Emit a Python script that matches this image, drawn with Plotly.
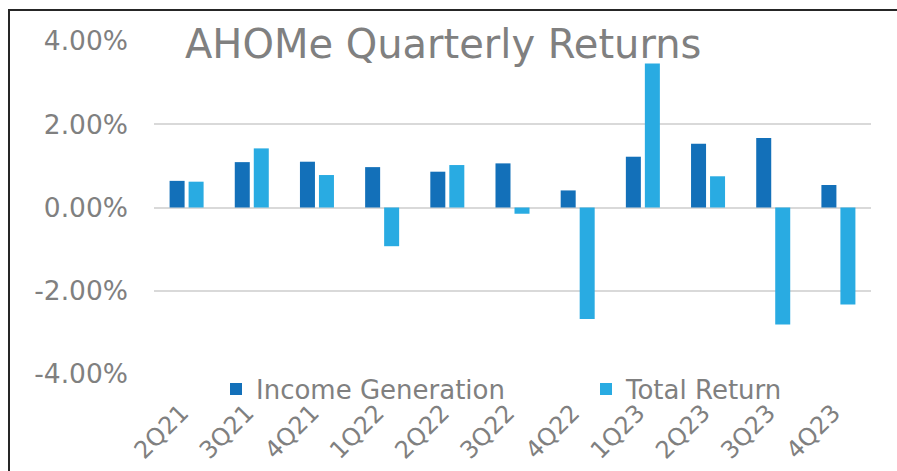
import plotly.graph_objects as go

quarters = ["2Q21", "3Q21", "4Q21", "1Q22", "2Q22", "3Q22", "4Q22", "1Q23", "2Q23", "3Q23", "4Q23"]
income_generation = [0.0064, 0.0109, 0.0110, 0.0097, 0.0086, 0.0106, 0.0041, 0.0122, 0.0153, 0.0167, 0.0054]
total_return = [0.0062, 0.0142, 0.0078, -0.0093, 0.0102, -0.0015, -0.0268, 0.0346, 0.0075, -0.0281, -0.0233]
y_tick_values = [-0.04, -0.02, 0.0, 0.02, 0.04]
y_tick_labels = ["-4.00%", "-2.00%", "0.00%", "2.00%", "4.00%"]

W, H = 897, 471
ML, MR, MT, MB = 154, 26, 41, 97
PW, PH = W - ML - MR, H - MT - MB

def px_x(px):
    return (px - ML) / PW

def px_y(py):
    return (H - MB - py) / PH

GRAY = "#808080"
FONT = "DejaVu Sans"

fig = go.Figure()
fig.add_trace(go.Bar(name="Income Generation", x=quarters, y=income_generation,
                     marker=dict(color="#1370B9", line=dict(width=0)), legend="legend"))
fig.add_trace(go.Bar(name="Total Return", x=quarters, y=total_return,
                     marker=dict(color="#29ABE2", line=dict(width=0)), legend="legend2"))

leg_common = dict(orientation="h", xanchor="left", yanchor="middle",
                  xref="container", yref="container",
                  font=dict(family=FONT, size=26, color=GRAY), bgcolor="rgba(0,0,0,0)",
                  itemwidth=30)

fig.update_layout(
    width=W, height=H,
    margin=dict(l=ML, r=MR, t=MT, b=MB, pad=0, autoexpand=False),
    paper_bgcolor="white", plot_bgcolor="white",
    barmode="group", bargap=0.417, bargroupgap=0.21,
    font=dict(family=FONT, color=GRAY),
    title=dict(text="AHOMe Quarterly Returns", font=dict(family=FONT, size=40, color=GRAY),
               x=185 / W, xanchor="left", xref="container",
               y=1 - 44 / H, yanchor="middle", yref="container"),
    showlegend=True,
    legend=dict(x=216 / W, y=1 - 389 / H, **leg_common),
    legend2=dict(x=586 / W, y=1 - 389 / H, **leg_common),
    xaxis=dict(type="category", tickangle=-45, tickfont=dict(family=FONT, size=24, color=GRAY),
               showgrid=False, showline=False, ticks="", ticklabelstandoff=19, ticklabelshift=-5,
               zeroline=False, automargin=False),
    yaxis=dict(range=[-0.04, 0.04], tickvals=y_tick_values, ticktext=y_tick_labels,
               tickfont=dict(family=FONT, size=26.5, color=GRAY),
               showgrid=True, gridcolor="#D9D9D9", gridwidth=1.5,
               zeroline=True, zerolinecolor="#D9D9D9", zerolinewidth=1.5,
               showline=False, ticks="", ticklabelstandoff=25, automargin=False),
    shapes=[dict(type="rect", xref="paper", yref="paper",
                 x0=px_x(9), x1=px_x(905), y0=px_y(490), y1=px_y(10),
                 line=dict(color="#262626", width=2), fillcolor="rgba(0,0,0,0)", layer="above")],
)

fig.write_html("out.html")
